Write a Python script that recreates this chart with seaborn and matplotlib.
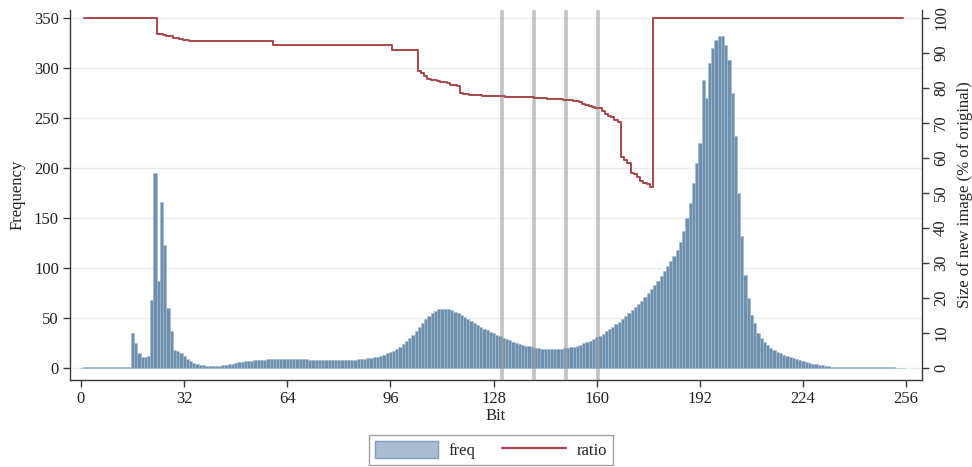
import numpy as np
import pandas as pd
import matplotlib
matplotlib.use("Agg")
import matplotlib.pyplot as plt
import seaborn as sns
from matplotlib.patches import Patch
from matplotlib.lines import Line2D

# ---------------- data ----------------
bits = list(range(0, 256))

freq = (
    [0] + [1] * 15 +                                             # 0-15
    [35, 25, 15, 11, 11, 12, 68, 195, 87, 166, 123, 60, 37, 18,  # 16-29
     17, 15, 12, 9, 7, 5, 4, 3.5, 3, 2.5,                        # 30-39
     2.3, 2.3, 2.3, 2.5, 3, 3.5, 4, 4.5, 5, 5.7,                 # 40-49
     6.2, 6.7, 7, 7.3, 7.6, 7.9, 8.2, 8.4, 8.6, 8.7,             # 50-59
     8.8, 8.9, 9, 9, 9, 9, 9, 8.9, 8.8, 8.7,                     # 60-69
     8.6, 8.5, 8.4, 8.4, 8.3, 8.3, 8.3, 8.3, 8.2, 8.2,           # 70-79
     8.2, 8.2, 8.2, 8.3, 8.4, 8.5, 8.7, 9, 9.3, 9.7,             # 80-89
     10.2, 10.8, 11.5, 12.5, 13.5, 14.7, 16, 17.5, 19.5, 21.5,   # 90-99
     24, 27, 30, 33, 37, 41, 45, 49, 52.5, 55.5,                 # 100-109
     57.5, 59, 59.5, 59.5, 59, 58, 56.5, 55, 53, 51,             # 110-119
     49, 47, 45, 43, 41, 39.5, 38, 36.5, 35, 33.5,               # 120-129
     32, 30.5, 29, 27.7, 26.5, 25.3, 24.3, 23.3, 22.5, 21.7,     # 130-139
     21, 20.4, 19.9, 19.5, 19.2, 19, 18.9, 18.9, 19, 19.3,       # 140-149
     19.7, 20.2, 20.8, 21.5, 22.4, 23.4, 24.6, 26, 27.5, 29,     # 150-159
     30.7, 32.5, 34.5, 36.7, 39, 41.5, 44, 46.5, 49, 52,         # 160-169
     55, 58, 61, 64, 67.5, 71, 75, 79, 83, 87,                   # 170-179
     92, 97, 102, 107, 112, 118, 126, 137, 150, 165,             # 180-189
     185, 205, 225, 288, 270, 305, 320, 328, 332, 332,           # 190-199
     323, 308, 275, 232, 175, 132, 93, 70, 53, 45,               # 200-209
     35, 30, 26, 23, 20.5, 18.5, 16.5, 15, 13.5, 12,             # 210-219
     11, 10, 9, 8, 7, 6, 5.2, 4.5, 3.8, 3.2,                     # 220-229
     2.6, 2.2, 1.8, 1.5, 1.3] +                                  # 230-234
    [1] * 18 + [0] * 3                                           # 235-255
)

ratio_bits = list(range(1, 256))
ratio = (
    [100] * 23 +                                                 # 1-23
    [95.4, 95.3, 95.2, 95.0, 94.8, 94.4, 94.2, 94.0, 93.8, 93.6, 93.4] +  # 24-34
    [93.3] * 25 +                                                # 35-59
    [92.4] * 37 +                                                # 60-96
    [91.0] * 8 +                                                 # 97-104
    [85.0, 84.2, 83.3, 82.5, 82.3, 82.2, 82.0, 81.8, 81.6, 81.3, # 105-114
     81.0, 80.8, 80.6, 78.5, 78.3, 78.2, 78.1, 78.0, 77.95, 77.9,  # 115-124
     77.8, 77.8, 77.75, 77.7, 77.65, 77.6, 77.6, 77.55, 77.5, 77.5,  # 125-134
     77.45, 77.4, 77.4, 77.35, 77.3, 77.3, 77.2, 77.15, 77.1, 77.05, # 135-144
     77.0, 77.0, 76.9, 76.8, 76.75, 76.7, 76.6, 76.5, 76.4, 76.2,    # 145-154
     75.9, 75.5, 75.1, 74.8, 74.5, 74.3, 74.2, 73.3, 72.6, 72.0,     # 155-164
     71.6, 71.0, 70.4, 60.4, 59.5, 58.5, 55.8, 55.5, 54.7, 53.5,     # 165-174
     53.0, 52.5, 51.8] +                                         # 175-177
    [100] * 78                                                   # 178-255
)

cut_bits = [130.5, 140.5, 150.5, 160.5]

x_ticks = [0, 32, 64, 96, 128, 160, 192, 224, 256]
left_ticks = [0, 50, 100, 150, 200, 250, 300, 350]
right_ticks = [0, 10, 20, 30, 40, 50, 60, 70, 80, 90, 100]

hist_df = pd.DataFrame({"bit": bits, "freq": freq})
ratio_df = pd.DataFrame({"bit": ratio_bits, "ratio": ratio})

# ---------------- style ----------------
sns.set_theme(style="white")
plt.rcParams["font.family"] = ["Liberation Serif", "DejaVu Serif"]
plt.rcParams["font.size"] = 12

bar_face = "#6f8fae"
bar_edge = "#a3b8cc"
line_col = "#a8464a"
spine_col = "#3a3a3a"

fig = plt.figure(figsize=(9.72, 4.67), dpi=100)
ax = fig.add_axes([70 / 972, (467 - 380) / 467, (922 - 70) / 972, (380 - 10) / 467])

sns.histplot(data=hist_df, x="bit", weights="freq", discrete=True, ax=ax,
             color=bar_face, edgecolor=bar_edge, linewidth=0.4, alpha=1.0,
             zorder=2)

for cb in cut_bits:
    ax.axvline(cb, color="#9a9a9a", alpha=0.6, lw=2.6, zorder=4)

ax.set_xlim(-3.4, 260.9)
ax.set_ylim(-12, 358)
ax.set_xticks(x_ticks)
ax.set_yticks(left_ticks)
ax.set_xlabel("Bit", fontsize=12, labelpad=1)
ax.set_ylabel("Frequency", fontsize=12, labelpad=6)
ax.yaxis.grid(True, color="#e6eff1", lw=1.0, zorder=0)
ax.xaxis.grid(False)
ax.set_axisbelow(True)

ax2 = ax.twinx()
sns.lineplot(data=ratio_df, x="bit", y="ratio", ax=ax2, color=line_col,
             lw=1.4, zorder=5, drawstyle="steps-mid")
ax2.set_ylim(-12 / 3.5, 358 / 3.5)
ax2.set_yticks(right_ticks)
ax2.set_ylabel("Size of new image (% of original)", fontsize=12, labelpad=6)
ax2.set_xlabel("")
ax2.grid(False)
for lab in ax2.get_yticklabels():
    lab.set_rotation(90)
    lab.set_va("center")

for a in (ax, ax2):
    a.spines["top"].set_visible(False)
    for s in ("left", "right", "bottom"):
        a.spines[s].set_color(spine_col)
        a.spines[s].set_linewidth(1.0)
    a.tick_params(axis="both", which="major", length=5, width=1.0,
                  color=spine_col, labelsize=12, labelcolor="#222222",
                  direction="out", pad=3)
ax.spines["right"].set_visible(False)
ax2.spines["left"].set_visible(False)
ax2.spines["bottom"].set_visible(False)
ax.tick_params(axis="x", bottom=True)
ax.tick_params(axis="y", left=True)
ax2.tick_params(axis="y", right=True)

handles = [Patch(facecolor="#a9bdd3", edgecolor="#7f9cba", lw=1.0),
           Line2D([0], [0], color=line_col, lw=1.6)]
leg = fig.legend(handles, ["freq", "ratio"], loc="upper center",
                 bbox_to_anchor=(0.505, (467 - 435) / 467), ncol=2,
                 frameon=True, fancybox=False, fontsize=12,
                 handlelength=3.8, handleheight=1.2, columnspacing=1.6,
                 borderpad=0.35, handletextpad=0.65, borderaxespad=0)
leg.get_frame().set_edgecolor("#8a8a8a")
leg.get_frame().set_linewidth(1.0)

fig.savefig("out.png", dpi=100)
